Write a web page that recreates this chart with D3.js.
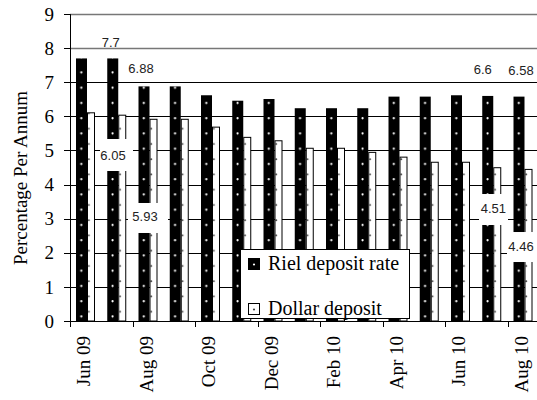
<!DOCTYPE html>
<html>
<head>
<meta charset="utf-8">
<script src="https://cdn.jsdelivr.net/npm/d3@7"></script>
<style>
	body { margin: 0; background: #fff; }
</style>
</head>
<body>
<div id="graph"></div>
<script>
	// data
	var months = ["Jun 09", "Jul 09", "Aug 09", "Sep 09", "Oct 09", "Nov 09", "Dec 09", "Jan 10",
		"Feb 10", "Mar 10", "Apr 10", "May 10", "Jun 10", "Jul 10", "Aug 10"];
	var rielRate = [7.7, 7.7, 6.88, 6.88, 6.62, 6.46, 6.51, 6.24, 6.24, 6.24, 6.58, 6.58, 6.62, 6.6, 6.58];
	var dollarRate = [6.12, 6.05, 5.93, 5.93, 5.7, 5.4, 5.3, 5.08, 5.08, 4.96, 4.82, 4.67, 4.67, 4.51, 4.46];
	var rielLabels = [null, "7.7", "6.88", null, null, null, null, null, null, null, null, null, null, "6.6", "6.58"];
	var dollarLabels = [null, "6.05", "5.93", null, null, null, null, null, null, null, null, null, null, "4.51", "4.46"];
	var yTicks = [0, 1, 2, 3, 4, 5, 6, 7, 8, 9];
	var xLabelMonths = ["Jun 09", "Aug 09", "Oct 09", "Dec 09", "Feb 10", "Apr 10", "Jun 10", "Aug 10"];
	var seriesNames = ["Riel deposit rate", "Dollar deposit"];

	var w = 537;
	var h = 400;
	var left = 70;
	var bottom = 321;
	var serif = "'Liberation Serif', 'Times New Roman', 'DejaVu Serif', serif";
	var sans = "'Liberation Sans', Arial, sans-serif";

	var xScale = d3.scaleBand()
		.domain(months)
		.range([left, left + 15 * 31.25])
		.padding(0);
	var yScale = d3.scaleLinear()
		.domain([0, 9])
		.range([bottom, bottom - 9 * 34.1]);

	var step = xScale.step();

	// hand placed labels in the original (offsets from bar centre/top)
	var rielLabelPos = {1: [-2, -16], 2: [-3, -18], 13: [-5, -26.5], 14: [2, -25.7]};
	var dollarLabelPos = {
		1: {dx: -9.25, dy: 40.3, box: [-13, 20, -16, 16]},
		2: {dx: -8.5, dy: 97.2, box: [-17, 23, -13, 17]},
		13: {dx: -3.85, dy: 40.8, box: [-14.4, 14.6, -14, 17]},
		14: {dx: -7.5, dy: 77.8, box: [-14, 17, -14.7, 15.3]}
	};

	var svg = d3.select("#graph")
		.append("svg")
		.attr("width", w)
		.attr("height", h);

	var defs = svg.append("defs");

	var rielPat = defs.append("pattern")
		.attr("id", "rielPat")
		.attr("patternUnits", "userSpaceOnUse")
		.attr("x", left)
		.attr("y", bottom)
		.attr("width", step)
		.attr("height", 15.25);
	rielPat.append("rect")
		.attr("width", step)
		.attr("height", 15.25)
		.attr("fill", "#000");
	rielPat.append("circle")
		.attr("cx", 11.3)
		.attr("cy", 10.75)
		.attr("r", 1.1)
		.attr("fill", "#fff");

	var dollarPat = defs.append("pattern")
		.attr("id", "dollarPat")
		.attr("patternUnits", "userSpaceOnUse")
		.attr("x", left)
		.attr("y", bottom)
		.attr("width", step)
		.attr("height", 15.25);
	dollarPat.append("rect")
		.attr("width", step)
		.attr("height", 15.25)
		.attr("fill", "#fff");
	dollarPat.append("circle")
		.attr("cx", 18.8)
		.attr("cy", 6)
		.attr("r", 1)
		.attr("fill", "#444");

	// gridlines
	svg.append("g")
		.selectAll("line")
		.data(yTicks.slice(1))
		.enter()
		.append("line")
		.attr("x1", left)
		.attr("x2", w)
		.attr("y1", function (d) { return Math.round(yScale(d)) + 0.5; })
		.attr("y2", function (d) { return Math.round(yScale(d)) + 0.5; })
		.attr("stroke", function (d) { return d >= 8 ? "#777" : "#000"; })
		.attr("stroke-width", function (d) { return d >= 8 ? 1.5 : 1; });

	// bars
	var bars = svg.append("g");
	bars.selectAll("rect.riel")
		.data(rielRate)
		.enter()
		.append("rect")
		.attr("class", "riel")
		.attr("x", function (d, i) { return xScale(months[i]) + 6; })
		.attr("y", function (d) { return yScale(d); })
		.attr("width", 11)
		.attr("height", function (d) { return yScale(0) - yScale(d); })
		.attr("fill", "url(#rielPat)");

	bars.selectAll("rect.dollar")
		.data(dollarRate)
		.enter()
		.append("rect")
		.attr("class", "dollar")
		.attr("x", function (d, i) { return xScale(months[i]) + 17.5; })
		.attr("y", function (d) { return yScale(d) + 0.5; })
		.attr("width", 7)
		.attr("height", function (d) { return yScale(0) - yScale(d) - 0.5; })
		.attr("fill", "url(#dollarPat)")
		.attr("stroke", "#000")
		.attr("stroke-width", 1);

	// y axis
	svg.append("line")
		.attr("x1", left + 0.5)
		.attr("x2", left + 0.5)
		.attr("y1", yScale(9))
		.attr("y2", bottom)
		.attr("stroke", "#000");
	svg.append("g")
		.selectAll("line")
		.data(yTicks)
		.enter()
		.append("line")
		.attr("x1", left - 6)
		.attr("x2", left)
		.attr("y1", function (d) { return Math.round(yScale(d)) + 0.5; })
		.attr("y2", function (d) { return Math.round(yScale(d)) + 0.5; })
		.attr("stroke", "#000");
	svg.append("g")
		.selectAll("text")
		.data(yTicks)
		.enter()
		.append("text")
		.attr("font-family", serif)
		.attr("font-size", 19)
		.attr("x", 54)
		.attr("y", function (d) { return yScale(d); })
		.attr("dy", "0.35em")
		.attr("text-anchor", "end")
		.text(function (d) { return d; });

	svg.append("text")
		.attr("font-family", serif)
		.attr("font-size", 19)
		.attr("transform", "translate(27,178) rotate(-90)")
		.attr("text-anchor", "middle")
		.text("Percentage Per Annum");

	// x axis
	svg.append("line")
		.attr("x1", left)
		.attr("x2", w)
		.attr("y1", bottom + 0.5)
		.attr("y2", bottom + 0.5)
		.attr("stroke", "#000");
	svg.append("g")
		.selectAll("line")
		.data(xLabelMonths)
		.enter()
		.append("line")
		.attr("x1", function (d) { return Math.round(xScale(d)) + 0.5; })
		.attr("x2", function (d) { return Math.round(xScale(d)) + 0.5; })
		.attr("y1", bottom)
		.attr("y2", bottom + 6)
		.attr("stroke", "#000");
	svg.append("g")
		.selectAll("text")
		.data(xLabelMonths)
		.enter()
		.append("text")
		.attr("font-family", serif)
		.attr("font-size", 19)
		.attr("transform", function (d) {
			return "translate(" + (xScale(d) + step / 2) + "," + (bottom + 15) + ") rotate(-90)";
		})
		.attr("dy", "0.25em")
		.attr("text-anchor", "end")
		.text(function (d) { return d; });

	// value labels
	var labels = svg.append("g");
	rielLabels.forEach(function (t, i) {
		if (t == null) return;
		var p = rielLabelPos[i];
		labels.append("text")
			.attr("font-family", sans)
			.attr("font-size", 13)
			.attr("fill", "#222")
			.attr("x", xScale(months[i]) + 11.5 + p[0])
			.attr("y", yScale(rielRate[i]) + p[1])
			.attr("dy", "0.35em")
			.attr("text-anchor", "middle")
			.text(t);
	});
	dollarLabels.forEach(function (t, i) {
		if (t == null) return;
		var p = dollarLabelPos[i];
		var cx = xScale(months[i]) + 21 + p.dx;
		var cy = yScale(dollarRate[i]) + p.dy;
		labels.append("rect")
			.attr("x", cx + p.box[0])
			.attr("y", cy + p.box[2])
			.attr("width", p.box[1] - p.box[0])
			.attr("height", p.box[3] - p.box[2])
			.attr("fill", "#fff");
		labels.append("text")
			.attr("font-family", sans)
			.attr("font-size", 13)
			.attr("fill", "#222")
			.attr("x", cx)
			.attr("y", cy)
			.attr("dy", "0.35em")
			.attr("text-anchor", "middle")
			.text(t);
	});

	// legend
	var legend = svg.append("g");
	legend.append("rect")
		.attr("x", 240.5)
		.attr("y", 249.5)
		.attr("width", 169)
		.attr("height", 69)
		.attr("fill", "#fff")
		.attr("stroke", "#000");
	var items = legend.selectAll("g.item")
		.data(seriesNames)
		.enter()
		.append("g")
		.attr("class", "item")
		.attr("transform", function (d, i) { return "translate(248," + (258 + i * 45) + ")"; });
	items.append("rect")
		.attr("x", function (d, i) { return i == 0 ? 0 : 0.5; })
		.attr("y", function (d, i) { return i == 0 ? 0 : 0.5; })
		.attr("width", function (d, i) { return i == 0 ? 12 : 11; })
		.attr("height", function (d, i) { return i == 0 ? 12 : 11; })
		.attr("fill", function (d, i) { return i == 0 ? "#000" : "#fff"; })
		.attr("stroke", function (d, i) { return i == 0 ? "none" : "#000"; });
	items.append("circle")
		.attr("cx", 6)
		.attr("cy", 6.5)
		.attr("r", 1.1)
		.attr("fill", function (d, i) { return i == 0 ? "#fff" : "#444"; });
	items.append("text")
		.attr("font-family", serif)
		.attr("font-size", 20)
		.attr("x", 20)
		.attr("y", 12)
		.text(function (d) { return d; });
</script>
</body>
</html>
